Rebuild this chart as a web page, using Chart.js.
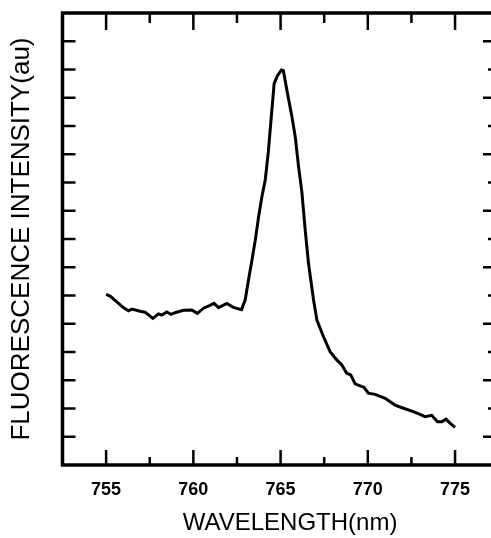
<!DOCTYPE html>
<html>
<head>
<meta charset="utf-8">
<script src="https://cdn.jsdelivr.net/npm/chart.js@4"></script>
<style>
  html, body { margin: 0; padding: 0; background: #fff; overflow: hidden; }
  #wrap { width: 491px; height: 538px; }
</style>
</head>
<body>
<div id="wrap"><canvas id="spectrumChart" width="491" height="538"></canvas></div>
<script>
const wavelength = [
  755.0, 755.23, 755.99, 756.28, 756.47, 756.95, 757.23, 757.68, 758.0, 758.19,
  758.48, 758.72, 758.95, 759.43, 759.91, 760.23, 760.58, 760.92, 761.19, 761.44,
  761.92, 762.29, 762.76, 762.97, 763.16, 763.36, 763.55, 763.74, 763.93, 764.12,
  764.3, 764.45, 764.63, 764.82, 765.05, 765.16, 765.36, 765.65, 765.84, 766.03,
  766.22, 766.41, 766.6, 766.89, 767.08, 767.46, 767.84, 768.22, 768.51, 768.79,
  769.02, 769.27, 769.56, 769.78, 770.03, 770.42, 770.99, 771.56, 772.04, 772.61,
  772.99, 773.28, 773.66, 773.99, 774.24, 774.48, 774.71, 775.0
];
const intensity = [
  6.04, 5.98, 5.57, 5.46, 5.52, 5.44, 5.41, 5.19, 5.35, 5.31,
  5.42, 5.33, 5.39, 5.48, 5.49, 5.37, 5.55, 5.64, 5.72, 5.57,
  5.72, 5.58, 5.5, 5.84, 6.55, 7.26, 7.96, 8.79, 9.5, 10.09,
  11.1, 12.2, 13.5, 13.78, 13.98, 13.96, 13.27, 12.33, 11.62, 10.56,
  9.66, 8.32, 7.14, 5.84, 5.13, 4.54, 4.01, 3.72, 3.54, 3.25,
  3.19, 2.87, 2.8, 2.75, 2.54, 2.5, 2.36, 2.12, 2.01, 1.89,
  1.79, 1.71, 1.76, 1.53, 1.53, 1.62, 1.48, 1.33
];
const xMajorTicks = [755, 760, 765, 770, 775];
const xMinorTicks = [757.5, 762.5, 767.5, 772.5];
const yTicks = [1, 2, 3, 4, 5, 6, 7, 8, 9, 10, 11, 12, 13, 14, 15];

// frame (right side lies just outside the picture) and inward tick marks
const frameTicks = {
  id: 'frameTicks',
  afterDraw(chart) {
    const { ctx, chartArea: a, scales: { x, y } } = chart;
    ctx.save();
    ctx.strokeStyle = '#000';
    ctx.lineWidth = 3.5;
    ctx.beginPath();
    ctx.moveTo(a.right + 5, a.top);
    ctx.lineTo(a.left, a.top);
    ctx.lineTo(a.left, a.bottom);
    ctx.lineTo(a.right + 5, a.bottom);
    ctx.stroke();
    ctx.lineWidth = 2.5;
    ctx.beginPath();
    xMajorTicks.forEach(v => {
      const px = x.getPixelForValue(v);
      ctx.moveTo(px, a.bottom); ctx.lineTo(px, a.bottom - 15);
      ctx.moveTo(px, a.top); ctx.lineTo(px, a.top + 17);
    });
    xMinorTicks.forEach(v => {
      const px = x.getPixelForValue(v);
      ctx.moveTo(px, a.bottom); ctx.lineTo(px, a.bottom - 8);
      ctx.moveTo(px, a.top); ctx.lineTo(px, a.top + 10);
    });
    yTicks.forEach(v => {
      const py = y.getPixelForValue(v);
      ctx.moveTo(a.left, py); ctx.lineTo(a.left + 13, py);
      ctx.moveTo(a.right, py); ctx.lineTo(a.right - (v % 2 ? 8 : 3), py);
    });
    ctx.stroke();
    ctx.restore();
  }
};

const ctx = document.getElementById('spectrumChart').getContext('2d');
new Chart(ctx, {
  type: 'line',
  data: {
    datasets: [{
      data: wavelength.map((w, i) => ({ x: w, y: intensity[i] })),
      borderColor: '#000',
      borderWidth: 3,
      pointRadius: 0,
      tension: 0,
      fill: false
    }]
  },
  options: {
    responsive: false,
    animation: false,
    layout: { padding: { top: 13, right: 0, left: 0, bottom: 0 } },
    plugins: { legend: { display: false }, tooltip: { enabled: false } },
    scales: {
      x: {
        type: 'linear',
        min: 752.5,
        max: 777.06,
        afterBuildTicks: s => { s.ticks = xMajorTicks.map(v => ({ value: v })); },
        afterFit: s => { s.height = 73; },
        grid: { display: false, drawTicks: false },
        border: { display: false },
        ticks: {
          color: '#000',
          padding: 14,
          maxRotation: 0,
          font: { family: 'Liberation Sans', size: 18, weight: 'bold' },
          callback: v => String(v)
        },
        title: {
          display: true,
          text: '    WAVELENGTH(nm)',
          color: '#000',
          padding: { top: 0, bottom: 0 },
          font: { family: 'Liberation Sans', size: 24 }
        }
      },
      y: {
        min: 0,
        max: 16,
        afterBuildTicks: s => { s.ticks = yTicks.map(v => ({ value: v })); },
        afterFit: s => { s.width = 62.5; },
        grid: { display: false, drawTicks: false },
        border: { display: false },
        ticks: { display: false },
        title: {
          display: true,
          text: 'FLUORESCENCE INTENSITY(au)',
          color: '#000',
          padding: { top: 6, bottom: 0 },
          font: { family: 'Liberation Sans', size: 26 }
        }
      }
    }
  },
  plugins: [frameTicks]
});
</script>
</body>
</html>
